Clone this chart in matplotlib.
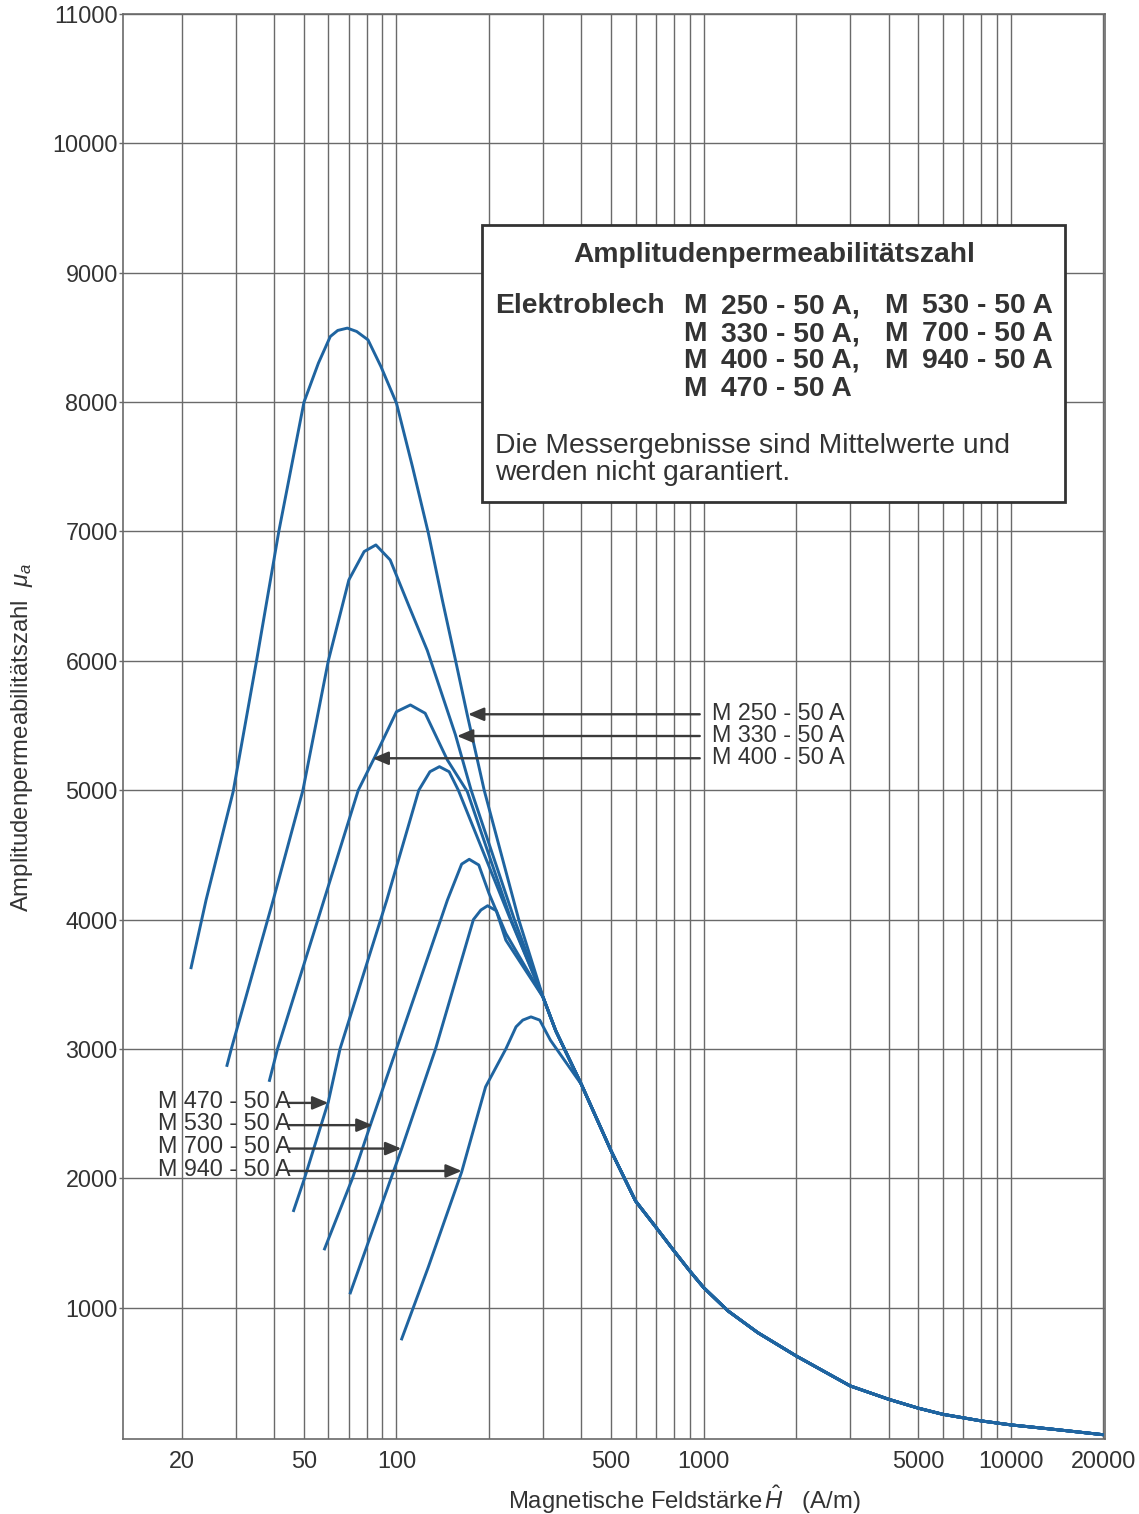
"""
Amplitudenpermeabilitätszahl von Elektroblech, 50 Hz
"""
import matplotlib
matplotlib.use("Agg")
import matplotlib.pyplot as plt
from matplotlib.patches import Rectangle

plt.rcParams['font.family'] = ['Liberation Sans', 'DejaVu Sans']
plt.rcParams['mathtext.fontset'] = 'custom'
plt.rcParams['mathtext.rm'] = 'Liberation Sans'
plt.rcParams['mathtext.it'] = 'Liberation Sans:italic'

# shared falling branch (all grades merge here)
tail_H = [300, 330, 400, 500, 600, 700, 800, 900, 1000, 1200, 1500, 2000,
          3000, 4000, 5000, 6000, 8000, 10000, 14000, 20000]
tail_mu = [3400, 3140, 2725, 2210, 1825, 1620, 1440, 1285, 1155, 975, 807, 627,
           395, 292, 223, 176, 125, 94, 58, 18]

m250_H = [21.4, 24.0, 29.4, 35.0, 41.4, 50, 55.7, 60.9, 64.4, 69.2, 74.2, 80.8,
          89, 100, 112.7, 127, 141, 156, 170, 193, 250]
m250_mu = [3617, 4151, 4988, 5994, 7000, 8000, 8301, 8507, 8554, 8572, 8546, 8481,
           8275, 7992, 7502, 6987, 6471, 5994, 5582, 5000, 4000]

m330_H = [28.0, 29.0, 39.7, 49.6, 60, 70, 78.5, 85.7, 95.4, 110, 126, 155.5, 175, 242]
m330_mu = [2862, 3000, 4151, 5000, 6000, 6626, 6845, 6896, 6780, 6419, 6080, 5430, 5000, 4000]

m400_H = [38.5, 41, 58.1, 75.1, 84.9, 100, 111, 124, 146.5, 170, 236]
m400_mu = [2746, 3000, 4151, 5000, 5254, 5607, 5659, 5595, 5233, 4990, 4000]

m470_H = [46.1, 50.2, 60, 65.5, 93, 118.2, 128.5, 138, 148.4, 159, 235]
m470_mu = [1740, 2000, 2591, 3000, 4151, 5000, 5143, 5182, 5143, 5000, 4000]

m530_H = [58.1, 71.9, 82, 100, 146.5, 163, 172.5, 185.3, 200, 227]
m530_mu = [1444, 2000, 2403, 3000, 4151, 4429, 4466, 4422, 4203, 3893]

m700_H = [70.5, 96, 104, 134, 178, 188.3, 198, 211.4, 227]
m700_mu = [1104, 2000, 2230, 3000, 4000, 4074, 4107, 4068, 3841]

m940_H = [103.6, 127, 163, 195, 227, 245, 257.7, 274, 292.6, 317]
m940_mu = [748, 1315, 2049, 2707, 3000, 3171, 3223, 3248, 3223, 3068]

# labels with arrows: text, arrow tip H, arrow height
right_labels = ["M 250 - 50 A", "M 330 - 50 A", "M 400 - 50 A"]
right_tip_H = [171, 157.4, 83.6]
right_mu = [5587, 5419, 5247]
left_labels = ["M 470 - 50 A", "M 530 - 50 A", "M 700 - 50 A", "M 940 - 50 A"]
left_tip_H = [60, 83.6, 103.7, 163.1]
left_mu = [2583, 2411, 2230, 2057]

x_ticks = [20, 50, 100, 500, 1000, 5000, 10000, 20000]
x_grid = [20, 30, 40, 50, 60, 70, 80, 90, 100, 200, 300, 400, 500, 600, 700, 800, 900,
          1000, 2000, 3000, 4000, 5000, 6000, 7000, 8000, 9000, 10000, 20000]
y_ticks = list(range(1000, 11001, 1000))

W, H = 1139, 1514
TXT = '#333333'
BLUE = '#1f64a0'
GRID = '#6a6a6a'
FS = 16.8
BOX_FS = 20.3

fig = plt.figure(figsize=(W / 100, H / 100), dpi=100)
ax = fig.add_axes([122.7 / W, 1 - 1439 / H, (1105 - 122.7) / W, (1439 - 14) / H])
ax.set_xscale('log')
ax.set_xlim(12.85, 20240)
ax.set_ylim(-15, 11000)

ax.set_xticks(x_grid, minor=True)
ax.set_xticks(x_ticks)
ax.set_xticklabels([str(t) for t in x_ticks])
ax.set_yticks(y_ticks)
ax.set_yticklabels([str(t) for t in y_ticks])
ax.tick_params(axis='x', which='both', length=0, pad=8, labelsize=FS, labelcolor=TXT)
ax.tick_params(axis='y', length=3, width=1, color=GRID, pad=0.5, labelsize=FS, labelcolor=TXT)
ax.grid(True, which='both', axis='x', color=GRID, lw=1.0)
ax.grid(True, which='major', axis='y', color=GRID, lw=1.0)
for s in ax.spines.values():
    s.set_color(GRID)
    s.set_linewidth(1.2)

curves = [(m250_H, m250_mu), (m330_H, m330_mu), (m400_H, m400_mu),
          (m470_H, m470_mu), (m530_H, m530_mu), (m700_H, m700_mu)]
for hs, mus in curves:
    ax.plot(hs + tail_H, mus + tail_mu, color=BLUE, lw=2.1, zorder=3,
            solid_joinstyle='round', solid_capstyle='butt')
ax.plot(m940_H + tail_H[2:], m940_mu + tail_mu[2:], color=BLUE, lw=2.1, zorder=3,
        solid_joinstyle='round', solid_capstyle='butt')

arrow = dict(arrowstyle='-|>,head_length=0.95,head_width=0.4', lw=1.7,
             color='#3a3a3a', shrinkA=0, shrinkB=0, mutation_scale=10)
for lab, tip, mu in zip(right_labels, right_tip_H, right_mu):
    ax.annotate('', xy=(tip, mu), xytext=(971, mu), arrowprops=arrow, zorder=4)
    ax.text(1065, mu - 45, lab, fontsize=FS, color=TXT, va='baseline', ha='left')
for lab, tip, mu in zip(left_labels, left_tip_H, left_mu):
    ax.annotate('', xy=(tip, mu), xytext=(44.6, mu), arrowprops=arrow, zorder=4)
    ax.text(16.72, mu - 36, lab, fontsize=FS, color=TXT, va='baseline', ha='left')

# info box
fig.add_artist(Rectangle((482 / W, 1 - 502 / H), (1065 - 482) / W, (502 - 225) / H,
                         transform=fig.transFigure, facecolor='white',
                         edgecolor='#333333', lw=2, zorder=5))


def ftext(px, py, s, **kw):
    fig.text(px / W, 1 - py / H, s, color=TXT, va='baseline', zorder=6, **kw)


ftext(774, 262, "Amplitudenpermeabilitätszahl", fontsize=BOX_FS, weight='bold', ha='center')
ftext(495, 313, "Elektroblech", fontsize=BOX_FS, weight='bold')
col1 = ["250 - 50 A,", "330 - 50 A,", "400 - 50 A,", "470 - 50 A"]
col2 = ["530 - 50 A", "700 - 50 A", "940 - 50 A"]
rows = [313, 341, 368, 396]
for i, s in enumerate(col1):
    ftext(683, rows[i], "M", fontsize=BOX_FS, weight='bold')
    ftext(721, rows[i], s, fontsize=BOX_FS, weight='bold')
for i, s in enumerate(col2):
    ftext(884, rows[i], "M", fontsize=BOX_FS, weight='bold')
    ftext(922, rows[i], s, fontsize=BOX_FS, weight='bold')
ftext(495, 453, "Die Messergebnisse sind Mittelwerte und", fontsize=BOX_FS)
ftext(495, 480, "werden nicht garantiert.", fontsize=BOX_FS)

# axis titles
fig.text(684 / W, 1 - 1500 / H, "Magnetische Feldstärke$\\,\\hat{H}$   (A/m)",
         fontsize=FS + 0.4, color=TXT, ha='center', va='center')
fig.text(22 / W, 1 - 738 / H, "Amplitudenpermeabilitätszahl  $\\mu_a$",
         fontsize=FS + 0.4, color=TXT, ha='center', va='center', rotation=90)

fig.savefig("out.png", dpi=100, facecolor='white')
